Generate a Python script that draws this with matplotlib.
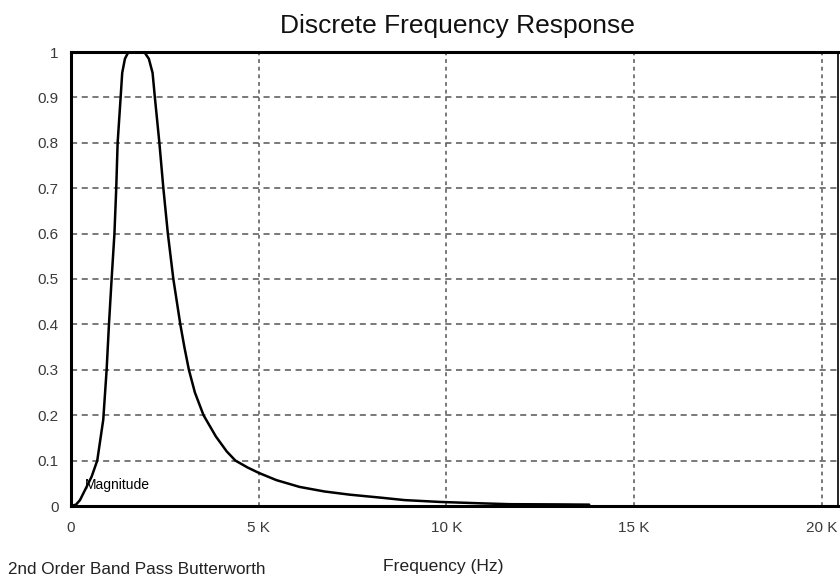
"""Discrete frequency response of a 2nd order band pass Butterworth filter."""

import matplotlib
matplotlib.use("Agg")
import matplotlib.pyplot as plt

plt.rcParams["font.family"] = ["Liberation Sans", "DejaVu Sans"]

# magnitude response (Hz, linear magnitude)
freq_hz = [0, 133, 239, 372, 551, 699, 859, 949, 1011, 1082, 1157, 1205, 1242,
           1322, 1364, 1436, 1516, 1742, 1968, 2074, 2173, 2234, 2354, 2460,
           2580, 2726, 2912, 3020, 3140, 3300, 3530, 3860, 4150, 4380, 4700,
           5000, 5471, 6090, 6750, 7420, 8298, 8883, 9814, 10878, 11676, 13005,
           13803]
magnitude = [0.0, 0.003, 0.013, 0.035, 0.065, 0.1, 0.19, 0.3, 0.4, 0.5, 0.6,
             0.7, 0.8, 0.9, 0.954, 0.985, 0.998, 1.0, 0.998, 0.985, 0.954, 0.9,
             0.8, 0.7, 0.6, 0.5, 0.4, 0.35, 0.3, 0.25, 0.2, 0.153, 0.12, 0.1,
             0.085, 0.073, 0.057, 0.042, 0.032, 0.025, 0.018, 0.013, 0.009,
             0.006, 0.004, 0.0035, 0.003]

x_ticks = [0, 5000, 10000, 15000, 20000]
x_labels = ["0", "5 K", "10 K", "15 K", "20 K"]
y_ticks = [0, 0.1, 0.2, 0.3, 0.4, 0.5, 0.6, 0.7, 0.8, 0.9, 1]
y_labels = ["0", "0.1", "0.2", "0.3", "0.4", "0.5", "0.6", "0.7", "0.8", "0.9", "1"]

figure = plt.figure(figsize=(8.4, 5.84), dpi=100)
axis = figure.add_axes([71 / 840, 1 - 506 / 584, 767 / 840, 454 / 584])

axis.plot(freq_hz, magnitude, color="black", lw=1.8, solid_joinstyle="round",
          solid_capstyle="round", zorder=3)
axis.text(370, 0.038, "Magnitude", fontsize=10, color="black", zorder=4)

axis.set_xlim(0, 20430)
axis.set_ylim(0, 1)
axis.set_xticks(x_ticks, x_labels)
axis.set_yticks(y_ticks, y_labels)
axis.tick_params(length=0, labelsize=11, labelcolor="#3a3a3a")
axis.tick_params(axis="x", pad=11)
axis.tick_params(axis="y", pad=9)

for value in y_ticks[1:-1]:
    axis.axhline(value, color="#555555", lw=1.1, ls=(0, (4, 3)), zorder=1)
for value in x_ticks[1:]:
    axis.axvline(value, color="#555555", lw=1.1, ls=(0, (2.5, 2.5)), zorder=1)

for side in ["left", "top", "bottom"]:
    axis.spines[side].set_linewidth(2.2)
axis.spines["right"].set_linewidth(1.2)

figure.text(457 / 840, 1 - 26 / 584, "Discrete Frequency Response",
            ha="center", va="center", fontsize=19, color="#111111")
figure.text(443 / 840, 1 - 567 / 584, "Frequency (Hz)",
            ha="center", va="center", fontsize=12.6, color="#222222")
figure.text(8 / 840, 1 - 569 / 584, "2nd Order Band Pass Butterworth",
            ha="left", va="center", fontsize=12.3, color="#222222")

figure.savefig("out.png", dpi=100)
plt.close(figure)
